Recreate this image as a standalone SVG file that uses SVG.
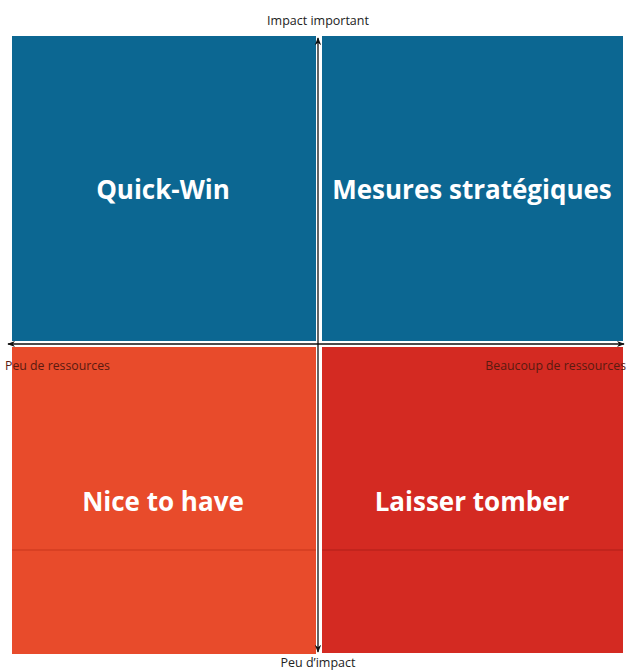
<svg xmlns="http://www.w3.org/2000/svg" width="627" height="670" viewBox="0 0 627 670">
<style>
.q{font-family:"Open Sans","Liberation Sans",sans-serif;font-weight:bold;font-size:26px;fill:#ffffff;text-anchor:middle}
.ax{font-family:"Open Sans","Liberation Sans",sans-serif;font-size:12.5px;fill:#222}
.axr{font-family:"Open Sans","Liberation Sans",sans-serif;font-size:12.3px;fill:#5a1a10}
.blue{fill:#0c6792}
.ol{stroke:#ffffff;stroke-width:4;fill:none}
.al{stroke:#111;stroke-width:1.3;fill:none}
</style>
<defs>
<marker id="ah" viewBox="0 0 10 10" refX="9" refY="5" markerWidth="8" markerHeight="8" markerUnits="userSpaceOnUse" orient="auto-start-reverse">
<path d="M0,1 L10,5 L0,9 L3,5 Z" fill="#111"/>
</marker>
</defs>
<rect width="627" height="670" fill="#ffffff"/>
<g id="quick-win">
<rect class="blue" x="12" y="36" width="304" height="305"/>
<text class="q" x="163" y="199">Quick-Win</text>
</g>
<g id="mesures-strategiques">
<rect class="blue" x="322" y="36" width="301" height="305"/>
<text class="q" x="472" y="199">Mesures stratégiques</text>
</g>
<g id="nice-to-have">
<rect x="12" y="347" width="304" height="307" fill="#e84b2b"/>
<line x1="12" y1="550" x2="316" y2="550" stroke="#c7361c" stroke-width="1.2"/>
<text class="q" x="163" y="511">Nice to have</text>
</g>
<g id="laisser-tomber">
<rect x="322" y="347" width="301" height="306" fill="#d42a22"/>
<line x1="322" y1="550" x2="623" y2="550" stroke="#b01e18" stroke-width="1.2"/>
<text class="q" x="472" y="511">Laisser tomber</text>
</g>
<g id="connectors">
<line class="ol" x1="318" y1="38" x2="318" y2="652"/>
<line class="ol" x1="8" y1="344" x2="624" y2="344"/>
<line class="al" x1="318" y1="38" x2="318" y2="652" marker-start="url(#ah)" marker-end="url(#ah)"/>
<line class="al" x1="8" y1="344" x2="624" y2="344" marker-start="url(#ah)" marker-end="url(#ah)"/>
</g>
<g id="labels">
<text class="ax" x="318" y="25" text-anchor="middle">Impact important</text>
<text class="axr" x="5" y="370">Peu de ressources</text>
<text class="axr" x="626" y="370" text-anchor="end">Beaucoup de ressources</text>
<text class="ax" x="318" y="667" text-anchor="middle">Peu d’impact</text>
</g>
</svg>
